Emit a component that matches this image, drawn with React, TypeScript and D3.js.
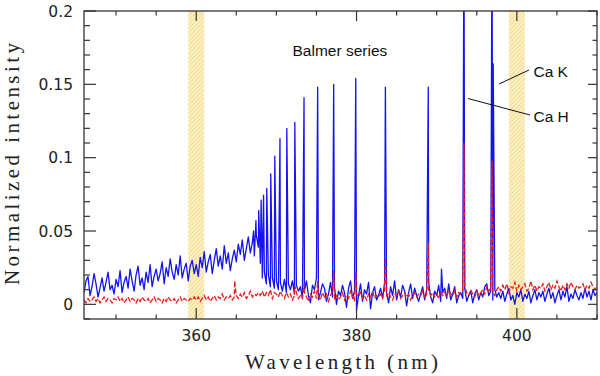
import React from 'react';
import * as d3 from 'd3';

// spectrum sampled on a regular wavelength grid (nm)
const lambdaStart = 346;
const lambdaStep = 0.25;

// blue = on-source, red = reference (dashed)
const blueContinuum = [
  0.008, 0.016, 0.019, 0.006, 0.012, 0.021, 0.014, 0.005, 0.011, 0.018, 0.009, 0.015, 0.022, 0.010, 0.013, 0.007,
  0.017, 0.012, 0.023, 0.008, 0.015, 0.019, 0.011, 0.024, 0.016, 0.009, 0.020, 0.026, 0.013, 0.018, 0.010, 0.022, 0.015, 0.027, 0.012, 0.019,
  0.024, 0.016, 0.021, 0.029, 0.014, 0.025, 0.019, 0.031, 0.022, 0.017, 0.027, 0.020, 0.033, 0.018, 0.024, 0.028, 0.016, 0.026, 0.030, 0.021,
  0.027, 0.019, 0.032, 0.025, 0.036, 0.022, 0.029, 0.034, 0.021, 0.030, 0.038, 0.026, 0.033, 0.024, 0.040, 0.028, 0.035, 0.023, 0.031, 0.037,
  0.029, 0.041, 0.034, 0.044, 0.030, 0.038, 0.046, 0.035, 0.042, 0.033, 0.047, 0.039,
  0.028, 0.018, 0.022, 0.014, 0.020, 0.012, 0.018, 0.011, 0.016, 0.010, 0.015, 0.009, 0.017, 0.008, 0.014, 0.010, 0.016, 0.007, 0.013, 0.009,
  0.012, 0.004, 0.009, 0.016, 0.006, 0.001, 0.013, 0.010, 0.018, 0.003, 0.008, 0.014, 0.011, 0.002, 0.007, 0.015, 0.005, 0.012, 0.000, 0.009,
  0.006, 0.013, 0.008, -0.002, 0.011, 0.016, 0.004, 0.009, -0.004, 0.006, 0.014, 0.002, 0.010, 0.007, 0.015, -0.003, 0.008, 0.012, 0.003, 0.006,
  0.011, 0.004, 0.015, 0.008, 0.001, 0.012, 0.006, 0.016, 0.003, 0.010, 0.005, 0.013, 0.009, -0.001, 0.008, 0.014, 0.004, 0.011, 0.006, 0.002,
  0.007, 0.012, 0.003, 0.010, 0.015, 0.005, 0.001, 0.009, 0.006, 0.013, 0.002, 0.008, 0.011, 0.004, 0.014, 0.003, 0.007, 0.012, 0.001, 0.006,
  0.008, 0.004, 0.011, 0.002, 0.006, 0.009, 0.001, 0.007, 0.010, 0.003, 0.008, 0.005, 0.012, 0.014, 0.006, 0.009, 0.003, 0.010, 0.005, 0.008,
  0.004, 0.009, 0.002, 0.007, 0.011, 0.003, 0.006, 0.000, 0.008, 0.005, 0.010, 0.002, 0.007, 0.004, 0.009, 0.001, 0.006, 0.010, 0.003, 0.008,
  0.005, 0.009, 0.002, 0.007, 0.011, 0.004, 0.008, 0.001, 0.006, 0.010, 0.003, 0.009, 0.005, 0.012, 0.002, 0.007, 0.004, 0.010, 0.006, 0.003,
  0.008, 0.004, 0.011, 0.005, 0.009, 0.003, 0.010, 0.006, 0.008,
];

const redContinuum = [
  0.003, 0.001, 0.004, 0.002, 0.003, 0.005, 0.002, 0.004, 0.001, 0.003, 0.005, 0.002, 0.004, 0.003, 0.001, 0.004,
  0.003, 0.005, 0.002, 0.004, 0.001, 0.003, 0.005, 0.002, 0.004, 0.003, 0.001, 0.004, 0.002, 0.005, 0.003, 0.002, 0.004, 0.001, 0.003, 0.005,
  0.002, 0.004, 0.003, 0.001, 0.004, 0.002, 0.005, 0.003, 0.002, 0.004, 0.001, 0.003, 0.005, 0.002, 0.004, 0.003, 0.002, 0.004, 0.003, 0.005,
  0.003, 0.005, 0.002, 0.004, 0.006, 0.003, 0.005, 0.002, 0.004, 0.006, 0.003, 0.005, 0.004, 0.007, 0.003, 0.005, 0.004, 0.006, 0.003, 0.005,
  0.006, 0.004, 0.007, 0.005, 0.008, 0.004, 0.006, 0.009, 0.005, 0.007, 0.006, 0.008,
  0.006, 0.009, 0.005, 0.008, 0.006, 0.010, 0.004, 0.008, 0.007, 0.005, 0.009, 0.006, 0.004, 0.008, 0.005, 0.007, 0.003, 0.006, 0.008, 0.004,
  0.006, 0.004, 0.008, 0.005, 0.002, 0.007, 0.005, 0.009, 0.004, 0.006, 0.003, 0.008, 0.005, 0.007, 0.002, 0.006, 0.009, 0.004, 0.006, 0.003,
  0.005, 0.008, 0.003, 0.006, 0.004, 0.009, 0.005, 0.002, 0.007, 0.005, 0.008, 0.004, 0.006, 0.003, 0.007, 0.005, 0.009, 0.004, 0.006, 0.005,
  0.007, 0.004, 0.010, 0.006, 0.008, 0.005, 0.003, 0.007, 0.006, 0.009, 0.004, 0.006, 0.008, 0.005, 0.007, 0.003, 0.006, 0.008, 0.005, 0.007,
  0.006, 0.009, 0.004, 0.007, 0.010, 0.006, 0.008, 0.005, 0.007, 0.004, 0.009, 0.006, 0.008, 0.005, 0.010, 0.007, 0.006, 0.009, 0.005, 0.008,
  0.007, 0.009, 0.012, 0.008, 0.006, 0.010, 0.007, 0.005, 0.009, 0.006, 0.008, 0.010, 0.007, 0.012, 0.009, 0.011, 0.008, 0.006, 0.010, 0.012,
  0.009, 0.013, 0.010, 0.014, 0.008, 0.012, 0.011, 0.015, 0.009, 0.013, 0.010, 0.012, 0.014, 0.009, 0.011, 0.016, 0.010, 0.013, 0.009, 0.012,
  0.011, 0.014, 0.009, 0.012, 0.015, 0.010, 0.013, 0.011, 0.016, 0.012, 0.009, 0.013, 0.010, 0.014, 0.011, 0.015, 0.012, 0.010, 0.013, 0.011,
  0.012, 0.014, 0.010, 0.013, 0.011, 0.015, 0.012, 0.010, 0.012,
];

// emission line peaks: [wavelength nm, peak intensity]
const blueLines: [number, number][] = [
  [367.15, 0.050], [367.45, 0.057], [367.8, 0.064], [368.1, 0.071], [368.4, 0.0745],
  [368.8, 0.079], [369.3, 0.089], [369.8, 0.101], [370.45, 0.113], [371.3, 0.120],
  [372.3, 0.124], [373.45, 0.141], [375.15, 0.148], [377.15, 0.150], [379.9, 0.154],
  [383.6, 0.148], [388.95, 0.148], [390.6, 0.024], [393.4, 0.26], [396.9, 0.26], [397.05, 0.164],
];
const redLines: [number, number][] = [
  [364.8, 0.016], [372.3, 0.013], [373.45, 0.014], [375.15, 0.016], [377.15, 0.023],
  [379.9, 0.022], [383.6, 0.032], [388.95, 0.042], [393.4, 0.110], [396.9, 0.098],
];

const bands: [number, number][] = [[359, 361], [399, 401]];
const xMajor = [360, 380, 400];
const yMajor = [0, 0.05, 0.1, 0.15, 0.2];
const yLabels = ['0', '0.05', '0.1', '0.15', '0.2'];

const W = 600;
const H = 376;
const left = 84, right = 597, top = 11, bottom = 319;

function buildSpectrum(cont: number[], lines: [number, number][]) {
  const pts: [number, number][] = cont.map((v, i) => [lambdaStart + i * lambdaStep, v]);
  return pts
    .filter(([l]) => !lines.some(([ll]) => Math.abs(ll - l) < 0.02))
    .concat(lines)
    .sort((a, b) => a[0] - b[0]);
}

export default function App() {
  const x = d3.scaleLinear().domain([346, 410]).range([left, right]);
  const y = d3.scaleLinear().domain([-0.01, 0.2]).range([bottom, top]);
  const line = d3.line<[number, number]>().x(d => x(d[0])).y(d => y(d[1]));

  const blue = buildSpectrum(blueContinuum, blueLines);
  const red = buildSpectrum(redContinuum, redLines);

  const xMinor = x.ticks(13).filter(t => !xMajor.includes(t));
  const yMinor = y.ticks(21).filter(t => !yMajor.some(m => Math.abs(m - t) < 1e-9));

  const axisColor = '#333';
  const tickFont = { fontFamily: 'DejaVu Sans', fontSize: 15.5, fill: '#222' };
  const noteFont = { fontFamily: 'Liberation Sans, Arial', fontSize: 15.5, fill: '#111' };

  return (
    <svg width={W} height={H} style={{ position: 'absolute', left: 0, top: 0, background: '#fff' }}>
      <defs>
        <clipPath id="plot">
          <rect x={left} y={top} width={right - left} height={bottom - top} />
        </clipPath>
        <pattern id="hatch" width={3} height={3} patternUnits="userSpaceOnUse" patternTransform="rotate(45)">
          <rect width={3} height={3} fill="#fdf1c4" />
          <line x1={0} y1={0} x2={0} y2={3} stroke="#eecb6e" strokeWidth={1.2} />
        </pattern>
      </defs>

      {bands.map(([a, b]) => (
        <rect key={a} x={x(a)} y={top} width={x(b) - x(a)} height={bottom - top} fill="url(#hatch)" />
      ))}

      <g clipPath="url(#plot)">
        <path d={line(blue) ?? ''} fill="none" stroke="#1414f0" strokeWidth={1.3} strokeLinejoin="round" />
        <path d={line(red) ?? ''} fill="none" stroke="#ee1c1c" strokeWidth={1.3} strokeDasharray="5 2" />
      </g>

      {/* frame */}
      <rect x={left} y={top} width={right - left} height={bottom - top} fill="none" stroke={axisColor} strokeWidth={1.3} />

      {/* x ticks, bottom and top */}
      {xMajor.map(t => (
        <g key={'xM' + t} stroke={axisColor} strokeWidth={1.2}>
          <line x1={x(t)} x2={x(t)} y1={bottom} y2={bottom - 11} />
          <line x1={x(t)} x2={x(t)} y1={top} y2={top + 10} />
        </g>
      ))}
      {xMinor.map(t => (
        <g key={'xm' + t} stroke={axisColor} strokeWidth={1.2}>
          <line x1={x(t)} x2={x(t)} y1={bottom} y2={bottom - 4.5} />
          <line x1={x(t)} x2={x(t)} y1={top} y2={top + 4.5} />
        </g>
      ))}
      {/* y ticks, left and right */}
      {yMajor.map(t => (
        <g key={'yM' + t} stroke={axisColor} strokeWidth={1.2}>
          <line x1={left} x2={left + 12} y1={y(t)} y2={y(t)} />
          <line x1={right} x2={right - 9} y1={y(t)} y2={y(t)} />
        </g>
      ))}
      {yMinor.map(t => (
        <g key={'ym' + t} stroke={axisColor} strokeWidth={1.2}>
          <line x1={left} x2={left + 6} y1={y(t)} y2={y(t)} />
          <line x1={right} x2={right - 4.5} y1={y(t)} y2={y(t)} />
        </g>
      ))}

      {xMajor.map(t => (
        <text key={'xl' + t} x={x(t)} y={341} textAnchor="middle" {...tickFont}>{t}</text>
      ))}
      {yMajor.map((t, i) => (
        <text key={'yl' + t} x={73} y={y(t) + 5.5} textAnchor="end" {...tickFont}>{yLabels[i]}</text>
      ))}

      <text x={(left + right) / 2 + 1} y={369} textAnchor="middle" fontFamily="Liberation Serif" fontSize={21}
        textLength={193} lengthAdjust="spacing" fill="#222">Wavelength (nm)</text>
      <text transform="translate(19,164) rotate(-90)" textAnchor="middle" fontFamily="Liberation Serif" fontSize={21}
        textLength={242} lengthAdjust="spacing" fill="#222">Normalized intensity</text>

      <text x={292.5} y={55.5} {...noteFont}>Balmer series</text>
      <text x={533.5} y={76.5} {...noteFont}>Ca K</text>
      <text x={533.5} y={121.5} {...noteFont}>Ca H</text>
      <line x1={499} y1={84} x2={529} y2={70} stroke="#111" strokeWidth={1} />
      <line x1={468} y1={98.5} x2={530} y2={115} stroke="#111" strokeWidth={1} />
    </svg>
  );
}
